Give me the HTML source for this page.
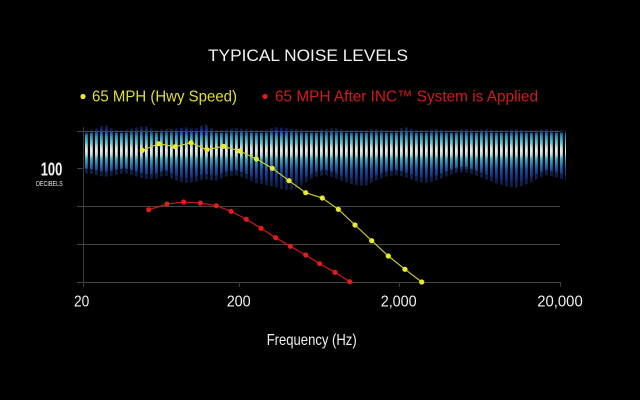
<!DOCTYPE html>
<html><head><meta charset="utf-8"><style>
html,body{margin:0;padding:0;background:#000;}
svg{display:block;}
</style></head><body>
<svg width="640" height="400" viewBox="0 0 640 400" xmlns="http://www.w3.org/2000/svg">
<defs>
<linearGradient id="bg" gradientUnits="userSpaceOnUse" x1="0" y1="126" x2="0" y2="188">
<stop offset="0" stop-color="#0a1a50"/>
<stop offset="0.07" stop-color="#143c8c"/>
<stop offset="0.13" stop-color="#1f6fb0"/>
<stop offset="0.19" stop-color="#2ea8c4"/>
<stop offset="0.27" stop-color="#5cc4d4"/>
<stop offset="0.34" stop-color="#c8dcdc"/>
<stop offset="0.40" stop-color="#e6ecec"/>
<stop offset="0.47" stop-color="#b8d8dc"/>
<stop offset="0.53" stop-color="#38b4c8"/>
<stop offset="0.61" stop-color="#2584b8"/>
<stop offset="0.71" stop-color="#1c4c9c"/>
<stop offset="0.84" stop-color="#152e7a"/>
<stop offset="1" stop-color="#0a1848"/>
</linearGradient>
<pattern id="stripes" patternUnits="userSpaceOnUse" x="85" y="0" width="5" height="400">
<rect x="2.8" y="0" width="2.2" height="400" fill="#000"/>
</pattern>
</defs>
<rect width="640" height="400" fill="#000"/>

<!-- grid -->
<g stroke="#3c3c3c" stroke-width="1">
<line x1="77" y1="168.5" x2="560" y2="168.5"/>
</g>

<!-- fringe -->
<path fill="#1a3a8a" opacity="0.55" d="M85,131 L95,129 L105,125 L115,130 L125,130 L135,128 L145,126 L155,130 L165,129 L175,129 L185,127 L195,129 L205,124 L215,130 L225,130 L235,128 L245,129 L255,130 L265,130 L275,127 L285,128 L295,129 L305,130 L315,130 L325,129 L335,128 L345,130 L355,130 L365,130 L375,129 L385,130 L395,130 L405,127 L415,130 L425,130 L435,129 L445,130 L455,130 L465,129 L475,130 L485,129 L495,130 L505,130 L515,129 L525,130 L535,130 L545,129 L555,130 L566,130
L566,180 L555,177 L545,175 L535,180 L525,185 L515,188 L505,186 L495,183 L485,179 L475,175 L465,172 L455,173 L445,177 L435,181 L425,183 L415,181 L405,177 L395,175 L385,177 L375,181 L365,186 L355,185 L345,182 L335,178 L325,175 L315,177 L305,183 L295,189 L285,190 L275,187 L265,185 L255,183 L245,178 L235,175 L225,177 L215,181 L205,179 L195,182 L185,183 L175,180 L165,175 L155,179 L145,179 L135,176 L125,173 L115,175 L105,177 L95,175 L85,173 Z"/>
<!-- waveform band -->
<path fill="url(#bg)" d="M85,134 L95,132 L105,128 L115,133 L125,133 L135,131 L145,129 L155,133 L165,132 L175,132 L185,130 L195,132 L205,127 L215,133 L225,133 L235,131 L245,132 L255,133 L265,133 L275,130 L285,131 L295,132 L305,133 L315,133 L325,132 L335,131 L345,133 L355,133 L365,133 L375,132 L385,133 L395,133 L405,130 L415,133 L425,133 L435,132 L445,133 L455,133 L465,132 L475,133 L485,132 L495,133 L505,133 L515,132 L525,133 L535,133 L545,132 L555,133 L566,133
L566,175 L555,172 L545,170 L535,175 L525,180 L515,183 L505,181 L495,178 L485,174 L475,170 L465,167 L455,168 L445,172 L435,176 L425,178 L415,176 L405,172 L395,170 L385,172 L375,176 L365,181 L355,180 L345,177 L335,173 L325,170 L315,172 L305,178 L295,184 L285,185 L275,182 L265,180 L255,178 L245,173 L235,170 L225,172 L215,176 L205,174 L195,177 L185,178 L175,175 L165,170 L155,174 L145,174 L135,171 L125,168 L115,170 L105,172 L95,170 L85,168 Z"/>
<rect x="84" y="118" width="484" height="76" fill="url(#stripes)"/>

<g stroke="#444" stroke-width="1">
<line x1="77" y1="131.5" x2="560" y2="131.5"/>
<line x1="77" y1="206.5" x2="560" y2="206.5"/>
<line x1="77" y1="244.5" x2="560" y2="244.5"/>
<line x1="77" y1="282.5" x2="560" y2="282.5"/>
</g>
<g stroke="#3a3a3a" stroke-width="1">
<line x1="83.5" y1="127" x2="83.5" y2="287"/>
<line x1="239.5" y1="282" x2="239.5" y2="287"/>
<line x1="399.5" y1="282" x2="399.5" y2="287"/>
<line x1="560.5" y1="282" x2="560.5" y2="287"/>
</g>

<!-- yellow series -->
<polyline fill="none" stroke="#c8c832" stroke-width="1.2" points="142.3,150.3 159,143.7 175,146.7 191,142.7 207,149.7 223.7,146.3 239.7,151 256.3,159 272.3,168.3 289,180.7 305.7,192.7 322.3,198 338.3,209.3 355,225 371.7,240.7 388.3,256 405,269.3 421.7,282"/>
<g fill="#eaea2a">
<circle cx="142.3" cy="150.3" r="2.6"/><circle cx="159" cy="143.7" r="2.6"/><circle cx="175" cy="146.7" r="2.6"/><circle cx="191" cy="142.7" r="2.6"/><circle cx="207" cy="149.7" r="2.6"/><circle cx="223.7" cy="146.3" r="2.6"/><circle cx="239.7" cy="151" r="2.6"/><circle cx="256.3" cy="159" r="2.6"/><circle cx="272.3" cy="168.3" r="2.6"/><circle cx="289" cy="180.7" r="2.6"/><circle cx="305.7" cy="192.7" r="2.6"/><circle cx="322.3" cy="198" r="2.6"/><circle cx="338.3" cy="209.3" r="2.6"/><circle cx="355" cy="225" r="2.6"/><circle cx="371.7" cy="240.7" r="2.6"/><circle cx="388.3" cy="256" r="2.6"/><circle cx="405" cy="269.3" r="2.6"/><circle cx="421.7" cy="282" r="2.6"/>
</g>

<!-- red series -->
<polyline fill="none" stroke="#c81616" stroke-width="1.3" points="148.7,209.7 167,204 183.7,202 200.3,203 216.3,205.7 231,211.3 246.3,219.3 261,228.3 275.7,237.7 290.3,246.3 305.7,255 319.7,263.7 335,272.3 349.7,281.7"/>
<g fill="#e01c1c">
<circle cx="148.7" cy="209.7" r="2.6"/><circle cx="167" cy="204" r="2.6"/><circle cx="183.7" cy="202" r="2.6"/><circle cx="200.3" cy="203" r="2.6"/><circle cx="216.3" cy="205.7" r="2.6"/><circle cx="231" cy="211.3" r="2.6"/><circle cx="246.3" cy="219.3" r="2.6"/><circle cx="261" cy="228.3" r="2.6"/><circle cx="275.7" cy="237.7" r="2.6"/><circle cx="290.3" cy="246.3" r="2.6"/><circle cx="305.7" cy="255" r="2.6"/><circle cx="319.7" cy="263.7" r="2.6"/><circle cx="335" cy="272.3" r="2.6"/><circle cx="349.7" cy="281.7" r="2.6"/>
</g>

<!-- text -->
<g font-family="Liberation Sans, sans-serif">
<text x="208" y="61" font-size="17" fill="#f2f2f2" textLength="200" lengthAdjust="spacingAndGlyphs">TYPICAL NOISE LEVELS</text>
<circle cx="83" cy="96.5" r="2.6" fill="#eaea2a"/>
<text x="92" y="101.5" font-size="16" fill="#dede3c" textLength="145" lengthAdjust="spacingAndGlyphs">65 MPH (Hwy Speed)</text>
<circle cx="265" cy="96.5" r="2.6" fill="#e01c1c"/>
<text x="275" y="101.5" font-size="16" fill="#d41a1a" textLength="263" lengthAdjust="spacingAndGlyphs">65 MPH After INC™ System is Applied</text>
<text x="40.7" y="175.7" font-size="18" font-weight="bold" fill="#f4f4f4" textLength="21.6" lengthAdjust="spacingAndGlyphs">100</text>
<text x="36" y="186" font-size="7.5" fill="#e8e8e8" textLength="26.7" lengthAdjust="spacingAndGlyphs">DECIBELS</text>
<text x="74" y="306.7" font-size="16" fill="#f0f0f0" textLength="15.3" lengthAdjust="spacingAndGlyphs">20</text>
<text x="226.7" y="306.7" font-size="16" fill="#f0f0f0" textLength="24" lengthAdjust="spacingAndGlyphs">200</text>
<text x="380.7" y="306.7" font-size="16" fill="#f0f0f0" textLength="36" lengthAdjust="spacingAndGlyphs">2,000</text>
<text x="537.3" y="306.7" font-size="16" fill="#f0f0f0" textLength="45.4" lengthAdjust="spacingAndGlyphs">20,000</text>
<text x="266.7" y="345" font-size="16" fill="#f0f0f0" textLength="90" lengthAdjust="spacingAndGlyphs">Frequency (Hz)</text>
</g>
</svg>
</body></html>
